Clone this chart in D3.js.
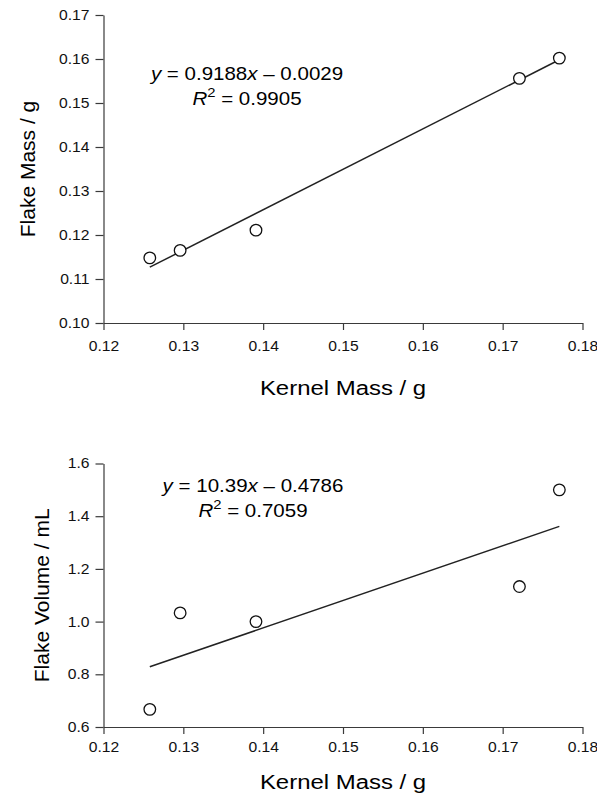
<!DOCTYPE html>
<html>
<head>
<meta charset="utf-8">
<script src="https://cdn.jsdelivr.net/npm/d3@7"></script>
<style>
  body { margin: 0; background: #fff; }
  svg { display: block; font-family: 'Liberation Sans', Arial, sans-serif; }
  .axis path, .axis line { stroke: #3a3a3a; stroke-width: 1.2; }
  .axis text { fill: #111; font-size: 14px; }
</style>
</head>
<body>
<div class="container"></div>
<script>
// Data
var kernelMass = [0.1258, 0.1296, 0.1391, 0.1721, 0.1771];
var flakeMass = [0.1148, 0.1165, 0.1211, 0.1556, 0.1602];
var flakeVolume = [0.667, 1.033, 1.000, 1.133, 1.500];

// Linear fits printed on the chart
var massFit = {slope: 0.9188, intercept: -0.0029, r2: '0.9905', text: '0.9188'};
var volumeFit = {slope: 10.39, intercept: -0.4786, r2: '0.7059', text: '10.39'};

var xTicks = [0.12, 0.13, 0.14, 0.15, 0.16, 0.17, 0.18];
var massTicks = [0.10, 0.11, 0.12, 0.13, 0.14, 0.15, 0.16, 0.17];
var volumeTicks = [0.6, 0.8, 1.0, 1.2, 1.4, 1.6];

// the original figure's lettering is a bit wide, so horizontal text gets stretched
var SX = 1.14;
var TICK_SX = 1.12;

var W = 597, H = 794;
var svg = d3.select('.container').append('svg')
    .attr('width', W)
    .attr('height', H);

function wideText(parent, x, y, size) {
  return parent.append('text')
      .attr('transform', 'translate(' + x + ',' + y + ') scale(' + SX + ',1)')
      .attr('text-anchor', 'middle')
      .style('font-size', size + 'px');
}

// Draws one scatter panel with its fit line
function drawPanel(opt) {
  var xScale = d3.scaleLinear().domain([0.12, 0.18]).range([103.5, 582.5]);
  var yScale = d3.scaleLinear().domain(opt.yDomain).range([opt.bottom, opt.top]);

  var g = svg.append('g');

  var xAxis = g.append('g')
      .attr('class', 'axis')
      .attr('transform', 'translate(0,' + opt.bottom + ')')
      .call(d3.axisBottom(xScale).tickValues(xTicks).tickSize(7).tickSizeOuter(0)
            .tickPadding(opt.xPad).tickFormat(d3.format('.2f')));
  xAxis.selectAll('text').attr('transform', 'scale(' + TICK_SX + ',1)');

  var yAxis = g.append('g')
      .attr('class', 'axis')
      .attr('transform', 'translate(103.5,0)')
      .call(d3.axisLeft(yScale).tickValues(opt.yTicks).tickSize(8).tickSizeOuter(0)
            .tickPadding(6).tickFormat(d3.format(opt.yFormat)));
  yAxis.selectAll('text')
      .attr('x', -14 / TICK_SX)
      .attr('transform', 'scale(' + TICK_SX + ',1)');

  g.selectAll('.axis .domain').attr('stroke-width', 1.3);

  // regression line between the smallest and largest x
  var x0 = d3.min(kernelMass), x1 = d3.max(kernelMass);
  var fitLine = d3.line()
      .x(function(d) { return xScale(d); })
      .y(function(d) { return yScale(opt.fit.slope * d + opt.fit.intercept); });
  g.append('path')
      .datum([x0, x1])
      .attr('d', fitLine)
      .attr('fill', 'none')
      .attr('stroke', '#222')
      .attr('stroke-width', 1.5);

  g.selectAll('.dot')
      .data(opt.values)
    .enter().append('circle')
      .attr('class', 'dot')
      .attr('cx', function(d, i) { return xScale(kernelMass[i]); })
      .attr('cy', function(d) { return yScale(d); })
      .attr('r', 5.8)
      .attr('fill', '#fff')
      .attr('stroke', '#111')
      .attr('stroke-width', 1.3);

  // equation
  var eq = wideText(g, opt.eqX, opt.eqY, 18);
  eq.append('tspan').style('font-style', 'italic').text('y');
  eq.append('tspan').text(' = ' + opt.fit.text);
  eq.append('tspan').style('font-style', 'italic').text('x');
  eq.append('tspan').text(' \u2013 ' + Math.abs(opt.fit.intercept).toFixed(4));

  var r2 = wideText(g, opt.eqX, opt.eqY + 25, 18);
  r2.append('tspan').style('font-style', 'italic').text('R');
  r2.append('tspan').attr('dy', -8).style('font-size', '13px').text('2');
  r2.append('tspan').attr('dy', 8).text(' = ' + opt.fit.r2);

  // axis titles
  wideText(g, 343, opt.xTitleY, 21).text('Kernel Mass / g');

  g.append('text')
      .attr('transform', 'translate(' + opt.yTitleX + ',' + (opt.top + opt.bottom) / 2 + ') rotate(-90)')
      .attr('text-anchor', 'middle')
      .style('font-size', '21px')
      .text(opt.yTitle);
}

drawPanel({
  yDomain: [0.10, 0.17], top: 15, bottom: 323,
  yTicks: massTicks, yFormat: '.2f', xPad: 11,
  values: flakeMass, fit: massFit,
  eqX: 247, eqY: 80, xTitleY: 395,
  yTitleX: 35, yTitle: 'Flake Mass / g'
});

drawPanel({
  yDomain: [0.6, 1.6], top: 463.5, bottom: 727,
  yTicks: volumeTicks, yFormat: '.1f', xPad: 8,
  values: flakeVolume, fit: volumeFit,
  eqX: 253, eqY: 492, xTitleY: 789,
  yTitleX: 49, yTitle: 'Flake Volume / mL'
});
</script>
</body>
</html>
